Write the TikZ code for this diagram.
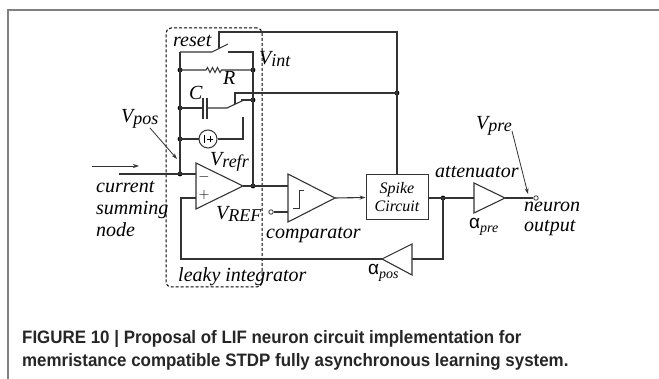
\documentclass[tikz,border=0pt]{standalone}
\usepackage{fontspec}
\setmainfont{Liberation Serif}
\newfontfamily\capfont[FakeStretch=0.94]{Liberation Sans}
\newfontfamily\alfont{Liberation Sans}
\usetikzlibrary{arrows.meta}
\newcommand{\lsub}[1]{\raisebox{-2pt}{\fontsize{18}{18}\selectfont #1}}
\newcommand{\asub}[1]{\raisebox{-4pt}{\fontsize{14}{14}\selectfont\itshape #1}}
\begin{document}
\begin{tikzpicture}[x=1pt,y=-1pt,
  wire/.style={line width=1.1pt, draw=black!80},
  jdot/.style={circle, fill=black, inner sep=0pt, minimum size=4.8pt},
  term/.style={circle, draw=black!80, line width=0.8pt, fill=white, inner sep=0pt, minimum size=4.5pt},
  lbl/.style={font=\fontsize{20}{22}\selectfont\itshape, inner sep=0pt, anchor=base west},
  frameline/.style={line width=1.8pt, draw=black!50},
  arr/.style={-{Stealth[length=6pt,width=4pt]}, line width=0.8pt, draw=black!80},
  capt/.style={font=\capfont\bfseries\fontsize{18}{22}\selectfont, inner sep=0pt, anchor=base west, text=black!85}
]
\useasboundingbox (0,0) rectangle (659,379);
\fill[white] (0,0) rectangle (659,379);
% frame
\coordinate (fTL) at (8,10); \coordinate (fTR) at (659,10); \coordinate (fBL) at (8,379);
\draw[frameline] (fTR) -- (fTL) -- (fBL);
% leaky integrator box
\node[draw=black, dash pattern=on 3pt off 2pt, line width=1pt, rounded corners=5pt,
  minimum width=96pt, minimum height=259pt, inner sep=0pt] (leaky) at (214,157.5) {};
% coordinates of the integrator
\coordinate (TL) at (180,52); \coordinate (TR) at (253,52);
\coordinate (rL) at (180,70); \coordinate (rR) at (253,70);
\coordinate (cL) at (180,108); \coordinate (sL) at (180,139);
\coordinate (inN) at (180,174); \coordinate (outN) at (253,186);
\coordinate (vintN) at (253,100);
\coordinate (sw1a) at (212,52); \coordinate (sw1b) at (228,44); \coordinate (sw1c) at (228,52);
\coordinate (rst0) at (219,48); \coordinate (rst1) at (219,32); \coordinate (rst2) at (397,32);
\coordinate (ctl) at (397,93);
\coordinate (capA) at (203,108); \coordinate (capB) at (207,108);
\coordinate (sw2a) at (227,108); \coordinate (sw2b) at (244,100);
\coordinate (sw2c) at (241,100); \coordinate (sw2d) at (243,117); \coordinate (sw2e) at (243,139);
\coordinate (ctl2a) at (235,104); \coordinate (ctl2b) at (235,93);
% opamp
\coordinate (oaT) at (196,163); \coordinate (oaB) at (196,209); \coordinate (oaO) at (243,186);
\coordinate (oaM) at (196,174); \coordinate (oaP) at (196,198);
\coordinate (pA) at (181,198); \coordinate (pB) at (181,259);
% comparator
\coordinate (cpT) at (288,174); \coordinate (cpB) at (288,222); \coordinate (cpO) at (335,198);
\coordinate (cpI) at (288,186); \coordinate (cpR) at (288,212);
% spike and outputs
\node[draw=black!80, line width=1pt, minimum width=62pt, minimum height=45pt, inner sep=0pt,
  align=center, font=\fontsize{16}{18}\selectfont\itshape] (spike) at (397,197.5) {Spike\\Circuit};
\coordinate (fb) at (443,198); \coordinate (fbD) at (443,259);
\coordinate (atT) at (474,183); \coordinate (atB) at (474,213); \coordinate (atO) at (505,198);
\coordinate (atI) at (474,198);
\coordinate (apT) at (412,244); \coordinate (apB) at (412,275); \coordinate (apO) at (382,259);
\coordinate (apI) at (412,259);
\node[term] (nout) at (536,198) {};
\node[term] (vref) at (271,212) {};
% junction dots
\foreach \p in {rL,rR,cL,sL,inN,outN,vintN,ctl,fb} \node[jdot] at (\p) {};
% integrator wires
\draw[wire] (TL) -- (inN);
\draw[wire] (TL) -- (sw1a) -- (sw1b);
\draw[wire] (sw1c) -- (TR) -- (outN);
\draw[wire] (rst0) -- (rst1) -- (rst2) -- (spike.north);
\draw[wire] (rL) -- (206,70) -- (207.5,67.5) -- (210,72.5) -- (212.5,67.5) -- (215,72.5) -- (217.5,67.5) -- (220,72.5) -- (221.5,70) -- (rR);
\draw[wire] (cL) -- (capA); \draw[wire] (capB) -- (sw2a) -- (sw2b);
\draw[line width=1.1pt, draw=black!80] (203,98) -- (203,119) (207,98) -- (207,119);
\draw[wire] (sw2c) -- (vintN);
\draw[wire] (ctl2a) -- (ctl2b) -- (ctl);
\node[circle, draw=black!80, line width=1pt, minimum size=18pt, inner sep=0pt] (src) at (208,139) {};
\draw[line width=0.8pt] (204,135) -- (204,143) (207,139) -- (213,139) (210,136) -- (210,142);
\draw[wire] (sL) -- (src.west); \draw[wire] (src.east) -- (sw2e) -- (sw2d);
% opamp
\draw[wire] (oaT) -- (oaO) -- (oaB) -- cycle;
\node[font=\fontsize{14}{14}\selectfont, inner sep=0pt] (minus) at (204,177) {$-$};
\node[font=\fontsize{14}{14}\selectfont, inner sep=0pt] (plus) at (204,195) {$+$};
\draw[wire] (inN) -- (oaM);
\draw[wire] (oaO) -- (outN) -- (cpI);
% input
\coordinate (inS) at (119,174);
\draw[wire] (inS) -- (inN);
\coordinate (ia0) at (92,166); \coordinate (ia1) at (139,166);
\draw[arr] (ia0) -- (ia1);
% comparator
\draw[wire] (cpT) -- (cpO) -- (cpB) -- cycle;
\draw[line width=0.9pt, draw=black!80] (293,208) -- (299,208) -- (299,190) -- (304,190);
\draw[wire] (vref) -- (cpR);
\draw[wire, -{Stealth[length=6pt,width=4pt]}] (cpO) -- (spike.west);
% spike out
\draw[wire] (spike.east |- fb) -- (fb) -- (atI);
\draw[wire] (atT) -- (atO) -- (atB) -- cycle;
\draw[wire] (atO) -- (nout);
\draw[wire] (fb) -- (fbD) -- (apI);
\draw[wire] (apT) -- (apO) -- (apB) -- cycle;
\draw[wire] (apO) -- (pB) -- (pA) -- (oaP);
% labels
\node[lbl] (lreset) at (173,47) {reset};
\node[lbl] (lvint) at (259,65) {V\lsub{int}};
\node[lbl] (lR) at (223,85) {R};
\node[lbl] (lC) at (189,100) {C};
\node[lbl] (lvpos) at (121,123) {V\lsub{pos}};
\node[lbl] (lvrefr) at (210,166) {V\lsub{refr}};
\node[lbl] (lvREF) at (216,220) {V\lsub{REF}};
\node[lbl] (lcur) at (96,193) {current};
\node[lbl] (lsum) at (96,215) {summing};
\node[lbl] (lnode) at (96,237) {node};
\node[lbl] (lleaky) at (178,282) {leaky integrator};
\node[lbl] (lcomp) at (266,239) {comparator};
\node[lbl] (latt) at (435,178) {attenuator};
\node[lbl] (lapre) at (469,229) {{\alfont\upshape\fontsize{19}{19}\selectfont α}\asub{pre}};
\node[lbl] (lapos) at (368,275) {{\alfont\upshape\fontsize{19}{19}\selectfont α}\asub{pos}};
\node[lbl] (lvpre) at (476,130) {V\lsub{pre}};
\node[lbl] (lneur) at (524,212) {neuron};
\node[lbl] (lout) at (524,232) {output};
% pointer arrows
\coordinate (vpA) at (150,128); \coordinate (vpB) at (177,159);
\draw[arr] (vpA) -- (vpB);
\coordinate (vrA) at (512,131); \coordinate (vrB) at (528,194);
\draw[arr] (vrA) -- (vrB);
% caption
\node[capt] (cap1) at (22,344) {FIGURE 10 | Proposal of LIF neuron circuit implementation for};
\node[capt] (cap2) at (22,367) {memristance compatible STDP fully asynchronous learning system.};
\end{tikzpicture}
\end{document}
